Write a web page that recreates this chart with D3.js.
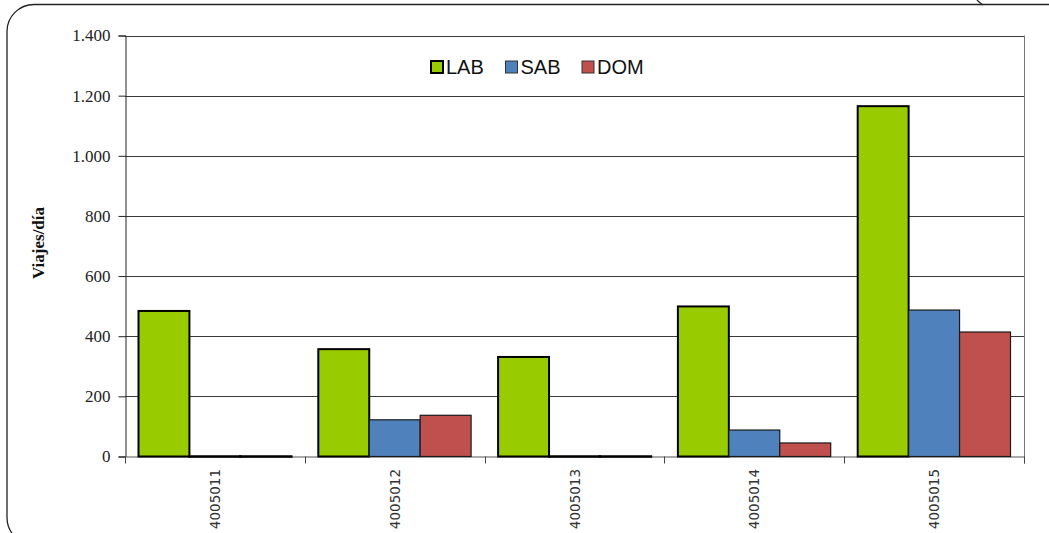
<!DOCTYPE html>
<html><head><meta charset="utf-8">
<script src="https://cdn.jsdelivr.net/npm/d3@7"></script>
<style>body{margin:0;background:#fff}svg{display:block}</style>
</head><body>
<svg id="c" width="1049" height="533"></svg>
<script>
const categories = ["4005011","4005012","4005013","4005014","4005015"];
const series = ["LAB","SAB","DOM"];
const LAB = [484, 357, 331, 499, 1165];
const SAB = [0, 122, 0, 88, 487];
const DOM = [0, 137, 0, 45, 414];
const yTicks = [0,200,400,600,800,1000,1200,1400];
const yTickLabels = ["0","200","400","600","800","1.000","1.200","1.400"];
const colors = {LAB:"#99CC00", SAB:"#4F81BD", DOM:"#C0504D"};
const values = {LAB, SAB, DOM};

const svg = d3.select("#c");
const L = 125, R = 1024, T = 35.5, B = 456.5;

// outer frame
svg.append("rect").attr("x",7).attr("y",4.5).attr("width",1120).attr("height",540)
  .attr("rx",27).attr("ry",27).attr("fill","none").attr("stroke","#222").attr("stroke-width",1.3);
svg.append("path").attr("d","M977,0 Q980,3 983,5").attr("fill","none").attr("stroke","#222").attr("stroke-width",1.2);

const y = d3.scaleLinear().domain([0,1400]).range([B,T]);
const x0 = d3.scaleBand().domain(categories).range([L,R]).paddingInner(0).paddingOuter(0);
const x1 = d3.scaleBand().domain(series).range([0,x0.bandwidth()]).paddingInner(0).paddingOuter(0.265);

// gridlines
svg.append("g").selectAll("line").data(yTicks.filter(d=>d>0)).join("line")
  .attr("x1",L).attr("x2",R).attr("y1",d=>Math.round(y(d))+0.5).attr("y2",d=>Math.round(y(d))+0.5)
  .attr("stroke","#3a3a3a").attr("stroke-width",1);
// right border
svg.append("line").attr("x1",R+0.5).attr("x2",R+0.5).attr("y1",T).attr("y2",B+7).attr("stroke","#777");

// y axis
const yAxis = d3.axisLeft(y).tickValues(yTicks).tickFormat((d,i)=>yTickLabels[i]).tickSize(7).tickPadding(8);
const ga = svg.append("g").attr("transform",`translate(${L+0.5},0)`).call(yAxis);
ga.select(".domain").attr("stroke","#222");
ga.selectAll(".tick line").attr("stroke","#222");
ga.selectAll(".tick text").attr("font-family","'Liberation Serif', serif").attr("font-size",17).attr("fill","#222");

// x axis
const xAxis = d3.axisBottom(x0).tickSize(0).tickFormat("");
const gx = svg.append("g").attr("transform",`translate(0,${B})`).call(xAxis);
gx.select(".domain").attr("stroke","#555");
svg.append("g").selectAll("line").data(d3.range(categories.length+1)).join("line")
  .attr("x1",i=>Math.round(L+i*x0.step())+0.5).attr("x2",i=>Math.round(L+i*x0.step())+0.5)
  .attr("y1",B).attr("y2",B+7).attr("stroke","#444");

svg.append("g").selectAll("text").data(categories).join("text")
  .attr("transform",d=>`translate(${x0(d)+x0.bandwidth()/2+5},469) rotate(-90)`)
  .attr("text-anchor","end").attr("font-family","'DejaVu Sans', sans-serif").attr("font-size",13.5)
  .attr("fill","#333").text(d=>d);

// bars
const g = svg.append("g");
categories.forEach((c,ci)=>{
  series.forEach(s=>{
    const v = values[s][ci];
    g.append("rect")
      .attr("x",x0(c)+x1(s)).attr("width",x1.bandwidth())
      .attr("y",y(v)).attr("height",Math.max(B-y(v),0.01))
      .attr("fill",colors[s])
      .attr("stroke",s==="LAB"||v===0?"#000":"#1a1a1a")
      .attr("stroke-width",s==="LAB"?2:(v===0?2.5:1.2));
  });
});

// y title
svg.append("text").attr("transform","translate(44,243) rotate(-90)")
  .attr("text-anchor","middle").attr("font-family","'Liberation Serif', serif")
  .attr("font-weight","bold").attr("font-size",17).attr("fill","#111").text("Viajes/día");

// legend
const legX = [431, 505.5, 582];
const lg = svg.append("g");
series.forEach((s,i)=>{
  lg.append("rect").attr("x",legX[i]).attr("y",61).attr("width",12).attr("height",12)
    .attr("fill",colors[s]).attr("stroke",s==="LAB"?"#000":"#333").attr("stroke-width",s==="LAB"?2:1);
  lg.append("text").attr("x",legX[i]+15).attr("y",74).attr("font-family","'Liberation Sans', Arial, sans-serif")
    .attr("font-size",20).attr("fill","#111").text(s);
});
</script>
</body></html>
